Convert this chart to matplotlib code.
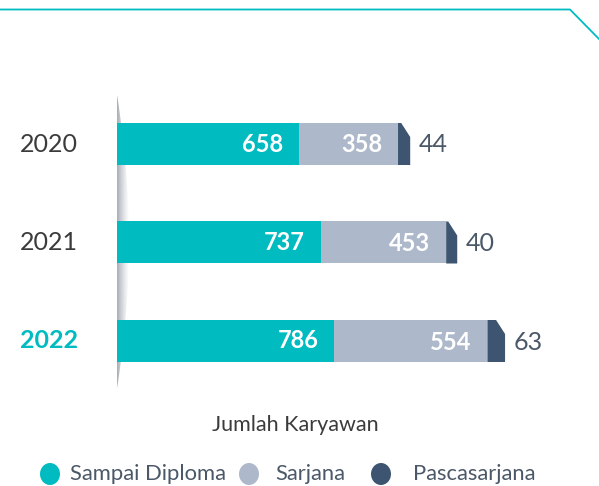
import numpy as np
import matplotlib
matplotlib.use("Agg")
import matplotlib.pyplot as plt
from matplotlib.patches import Polygon, Ellipse
from matplotlib.lines import Line2D

# ---- data -------------------------------------------------------------
years = ["2020", "2021", "2022"]
sampai_diploma = [658, 737, 786]
sarjana = [358, 453, 554]
pascasarjana = [44, 40, 63]
series_names = ["Sampai Diploma", "Sarjana", "Pascasarjana"]
title = "Jumlah Karyawan"

# ---- style ------------------------------------------------------------
TEAL = "#00BCC1"
GREY_BLUE = "#ADB8CA"
NAVY = "#3D5571"
TEXT_DARK = "#3B3B3B"
TEXT_SLATE = "#4A5868"
FONT = ["Lato", "DejaVu Sans"]

W, H = 599, 486
fig = plt.figure(figsize=(W / 100, H / 100), dpi=100)
fig.patch.set_facecolor("white")

# one axes spanning the whole canvas; x in employee counts, y in rows
px_per_unit = 0.2766
x0_px = 117
row_px = 98.5
first_row_px = 144
ax = fig.add_axes([0, 0, 1, 1])
ax.axis("off")

ypos = np.arange(len(years))
bar_h = 42 / row_px

# soft shadow sliver behind the bars on the left
sl_y = np.linspace(95, 388, 200)
t = (sl_y - 95) / (388 - 95)
sl_w = 12 * np.sin(np.pi * t) ** 0.9
img = np.ones((1, 64, 4))
base = np.array(matplotlib.colors.to_rgb("#A8ADB6"))
for i in range(64):
    a = (1 - i / 63) ** 1.4
    img[0, i, :3] = base * a + (1 - a)
sx1 = 12 / px_per_unit
sy_top = (95 - first_row_px) / row_px
sy_bot = (388 - first_row_px) / row_px
im = ax.imshow(img, extent=[0, sx1, sy_bot, sy_top], aspect="auto",
               interpolation="bilinear", zorder=1)
clip_x = np.concatenate([np.zeros_like(sl_y), (sl_w / px_per_unit)[::-1]])
clip_y = np.concatenate([(sl_y - first_row_px) / row_px,
                         ((sl_y - first_row_px) / row_px)[::-1]])
clip = Polygon(np.column_stack([clip_x, clip_y]), closed=True,
               transform=ax.transData, facecolor="none", edgecolor="none")
ax.add_patch(clip)
im.set_clip_path(clip)

ax.set_xlim(-x0_px / px_per_unit, (W - x0_px) / px_per_unit)
ax.set_ylim((H - first_row_px) / row_px, -first_row_px / row_px)

# stacked bars
ax.barh(ypos, sampai_diploma, height=bar_h, color=TEAL, zorder=3)
ax.barh(ypos, sarjana, left=sampai_diploma, height=bar_h, color=GREY_BLUE, zorder=3)

# last segment with a clipped top-right corner
cut_w = 9 / px_per_unit
cut_h = 14 / row_px
for y, a, b, c in zip(ypos, sampai_diploma, sarjana, pascasarjana):
    left = a + b
    right = left + c
    top, bot = y - bar_h / 2, y + bar_h / 2
    kx = max(left, right - cut_w)
    pts = [(left, bot), (right, bot), (right, top + cut_h), (kx, top), (left, top)]
    ax.add_patch(Polygon(pts, closed=True, facecolor=NAVY, edgecolor="none", zorder=3))

# value labels
for y, a, b, c in zip(ypos, sampai_diploma, sarjana, pascasarjana):
    ax.annotate(str(a), (a, y), xytext=(-16, 0), textcoords="offset pixels",
                ha="right", va="center", color="white", fontsize=17,
                fontweight="bold", family=FONT, zorder=4)
    ax.annotate(str(b), (a + b, y), xytext=(-16, -1), textcoords="offset pixels",
                ha="right", va="center", color="white", fontsize=17,
                fontweight="bold", family=FONT, zorder=4)
    ax.annotate(str(c), (a + b + c, y), xytext=(9, -1), textcoords="offset pixels",
                ha="left", va="center", color=TEXT_SLATE, fontsize=18,
                family=FONT, zorder=4)

# year labels
ytr = ax.get_yaxis_transform()
for y, yr in zip(ypos, years):
    last = yr == years[-1]
    ax.text(20 / W, y, yr, transform=ytr, ha="left", va="center",
            fontsize=18, family=FONT,
            color=TEAL if last else TEXT_DARK,
            fontweight="bold" if last else "normal")

# top rule with a bevelled corner
fig.add_artist(Line2D([0, 570 / W, 1.0], [1 - 9.5 / H, 1 - 9.5 / H, 1 - 39 / H],
                      transform=fig.transFigure, color=TEAL, lw=1.3))

# title
fig.text(295 / W, 1 - 425 / H, title, ha="center", va="center",
         fontsize=15.5, color=TEXT_DARK, family=FONT)

# legend
leg_y = 1 - 474 / H
dots = [50, 249, 381]
labels_x = [70, 275, 413]
for cx, lx, col, name in zip(dots, labels_x, [TEAL, GREY_BLUE, NAVY], series_names):
    fig.add_artist(Ellipse((cx / W, leg_y), 20 / W, 22 / H,
                           transform=fig.transFigure,
                           facecolor=col, edgecolor="none"))
    fig.text(lx / W, leg_y, name, ha="left", va="center", fontsize=15.8,
             color=TEXT_SLATE, family=FONT)

fig.savefig("out.png", dpi=100, facecolor="white")
